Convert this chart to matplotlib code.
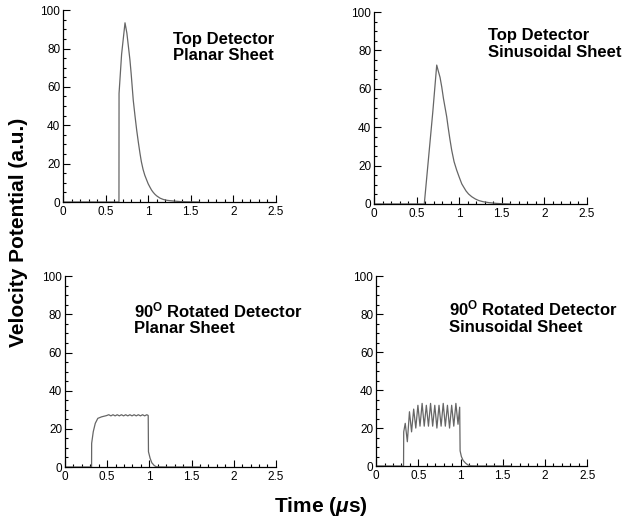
import matplotlib
matplotlib.use("Agg")
import matplotlib.pyplot as plt
from matplotlib.ticker import MultipleLocator

plt.rcParams['font.family'] = ['Liberation Sans', 'DejaVu Sans']
plt.rcParams['mathtext.fontset'] = 'custom'
plt.rcParams['mathtext.rm'] = 'Liberation Sans'
plt.rcParams['mathtext.bf'] = 'Liberation Sans:bold'
plt.rcParams['mathtext.it'] = 'Liberation Sans:italic:bold'

# top detector, planar sheet
tp_x = [0, 0.657, 0.658, 0.688, 0.728, 0.75, 0.786, 0.80, 0.825, 0.845, 0.865, 0.885,
        0.904, 0.92, 0.94, 0.96, 0.982, 1.0, 1.02, 1.04, 1.06, 1.08, 1.10, 1.14,
        1.18, 1.22, 1.256, 1.3, 1.37, 1.45, 1.6]
tp_y = [0, 0, 56.6, 77, 93.4, 88, 74, 67, 53, 45, 37.5, 31,
        25.3, 21, 17, 14, 11.5, 9.5, 7.8, 6.2, 5.0, 4.0, 3.2, 2.0,
        1.3, 0.9, 0.7, 0.5, 0.25, 0.1, 0]

# top detector, sinusoidal sheet
ts_x = [0, 0.59, 0.64, 0.69, 0.736, 0.75, 0.775, 0.795, 0.815, 0.835, 0.853, 0.87,
        0.89, 0.912, 0.94, 0.97, 1.0, 1.03, 1.05, 1.08, 1.11, 1.147, 1.19, 1.23,
        1.28, 1.35, 1.44, 1.52, 1.6]
ts_y = [0, 0, 24, 48, 72.4, 70, 66, 61, 55, 50, 45.5, 40,
        34, 28, 22, 17.7, 14, 10.5, 9, 6.8, 5.2, 3.8, 2.6, 1.8,
        1.2, 0.7, 0.3, 0.1, 0]

# rotated detector, planar sheet
rp_x = [0, 0.316, 0.317, 0.336, 0.36, 0.39, 0.435, 0.49, 0.52, 0.545, 0.57, 0.595,
        0.62, 0.645, 0.67, 0.695, 0.72, 0.745, 0.77, 0.795, 0.82, 0.845, 0.87,
        0.895, 0.92, 0.945, 0.97, 0.987, 0.99, 1.01, 1.03, 1.06, 1.086, 1.2, 1.6]
rp_y = [0, 0, 12.4, 18.5, 22.9, 25.5, 26.3, 26.9, 27.4, 26.8, 27.4, 26.8,
        27.4, 26.8, 27.4, 26.8, 27.4, 26.8, 27.4, 26.8, 27.4, 26.8, 27.4,
        26.8, 27.4, 26.8, 27.4, 27.0, 8, 4.5, 2.2, 0.7, 0.1, 0, 0]

# rotated detector, sinusoidal sheet
rs_x = [0, 0.325, 0.327, 0.345, 0.37, 0.395, 0.42, 0.445, 0.47, 0.495, 0.52, 0.545,
        0.57, 0.595, 0.62, 0.645, 0.67, 0.695, 0.72, 0.745, 0.77, 0.795, 0.82,
        0.845, 0.87, 0.895, 0.92, 0.945, 0.97, 0.99, 0.995, 1.01, 1.03, 1.06,
        1.09, 1.12, 1.2, 1.6]
rs_y = [0, 0, 18, 22.5, 12.8, 28.6, 18, 30, 20, 32, 21, 33,
        21, 32, 21, 33, 21, 32, 20, 32, 21, 33, 21,
        32, 20, 32, 21, 33, 22, 31, 8, 5, 3, 1.5,
        0.5, 0.1, 0, 0]

titles = ["Top Detector\nPlanar Sheet",
          "Top Detector\nSinusoidal Sheet",
          "90$^{\\mathbf{O}}$ Rotated Detector\nPlanar Sheet",
          "90$^{\\mathbf{O}}$ Rotated Detector\nSinusoidal Sheet"]
title_pos = [(1.29, 88.7), (1.34, 91.5), (0.82, 87.5), (0.86, 88)]

fig = plt.figure(figsize=(6.3, 5.2), dpi=100)
rects = [[0.100, 0.6115, 0.338, 0.369],
         [0.5937, 0.6077, 0.338, 0.369],
         [0.103, 0.1019, 0.335, 0.367],
         [0.597, 0.1038, 0.335, 0.365]]
data = [(tp_x, tp_y), (ts_x, ts_y), (rp_x, rp_y), (rs_x, rs_y)]

for rect, (xs, ys), title, (tx, ty) in zip(rects, data, titles, title_pos):
    ax = fig.add_axes(rect)
    ax.plot(xs, ys, color='#666666', lw=0.9)
    ax.set_xlim(0, 2.5)
    ax.set_ylim(0, 100)
    ax.spines['top'].set_visible(False)
    ax.spines['right'].set_visible(False)
    for s in ['left', 'bottom']:
        ax.spines[s].set_linewidth(0.9)
    ax.xaxis.set_major_locator(MultipleLocator(0.5))
    ax.xaxis.set_minor_locator(MultipleLocator(0.1))
    ax.yaxis.set_major_locator(MultipleLocator(20))
    ax.yaxis.set_minor_locator(MultipleLocator(5))
    ax.xaxis.set_major_formatter(lambda v, p: f"{v:g}")
    ax.tick_params(which='both', direction='in', labelsize=8.5, width=0.8)
    ax.tick_params(which='major', length=5, pad=3)
    ax.tick_params(which='minor', length=2.5)
    ax.tick_params(axis='y', pad=2)
    ax.text(tx, ty, title, ha='left', va='top', fontsize=12,
            fontweight='bold', linespacing=1.1)

fig.text(0.03, 0.554, "Velocity Potential (a.u.)", rotation=90, ha='center',
         va='center', fontsize=15, fontweight='bold')
fig.text(0.51, 0.025, "Time ($\\mu$s)", ha='center', va='center',
         fontsize=15, fontweight='bold')

fig.savefig("out.png", dpi=100)
